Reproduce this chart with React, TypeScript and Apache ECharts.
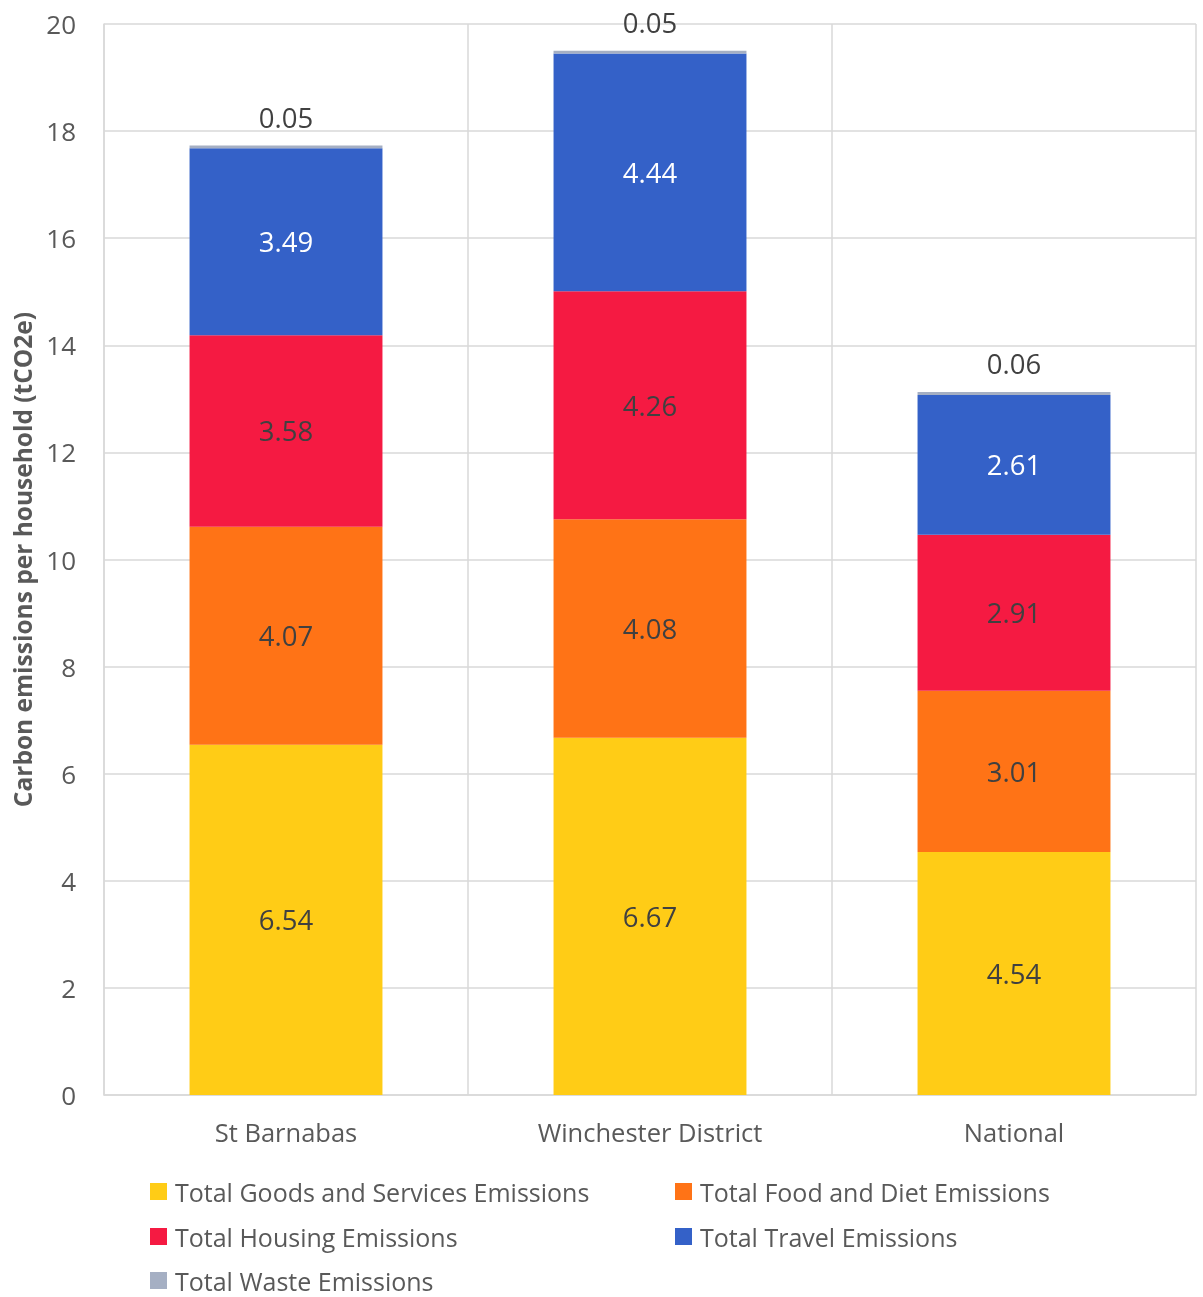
import React, { useEffect, useRef } from "react";
import * as echarts from "echarts";

const categories = ["St Barnabas", "Winchester District", "National"];
const seriesNames = [
  "Total Goods and Services Emissions",
  "Total Food and Diet Emissions",
  "Total Housing Emissions",
  "Total Travel Emissions",
  "Total Waste Emissions",
];
const goods = [6.54, 6.67, 4.54];
const food = [4.07, 4.08, 3.01];
const housing = [3.58, 4.26, 2.91];
const travel = [3.49, 4.44, 2.61];
const waste = [0.05, 0.05, 0.06];
const yTicks = { min: 0, max: 20, interval: 2 };

const colors = ["#FFCC16", "#FF7316", "#F51A42", "#3461C8", "#A5AFC3"];
const labelColors = ["#404040", "#404040", "#404040", "#FFFFFF", "#404040"];
const FONT = "'Open Sans', 'Noto Sans', sans-serif";

export default function App() {
  const ref = useRef<HTMLDivElement>(null);
  useEffect(() => {
    if (!ref.current) return;
    const chart = echarts.init(ref.current, null, { renderer: "svg" });
    const values = [goods, food, housing, travel, waste];
    const legendPos = [
      { left: 150, top: 1179 },
      { left: 675, top: 1179 },
      { left: 150, top: 1224 },
      { left: 675, top: 1224 },
      { left: 150, top: 1268 },
    ];
    chart.setOption({
      animation: false,
      textStyle: { fontFamily: FONT },
      grid: { left: 104, right: 7, top: 24, bottom: 202, containLabel: false, outerBoundsMode: "none" },
      legend: seriesNames.map((n, i) => ({
        data: [n],
        left: legendPos[i].left,
        top: legendPos[i].top,
        itemWidth: 17,
        itemHeight: 17,
        itemGap: 6,
        padding: 0,
        icon: "rect",
        selectedMode: false,
        textStyle: { fontSize: 25, color: "#595959", fontFamily: FONT, padding: [0, 0, 0, 3] },
      })),
      xAxis: {
        type: "category",
        data: categories,
        axisLine: { show: true, lineStyle: { color: "#D9D9D9", width: 1.5 } },
        axisTick: { show: false },
        splitLine: { show: true, lineStyle: { color: "#D9D9D9", width: 1.5 } },
        axisLabel: { fontSize: 25.5, color: "#595959", margin: 24, fontFamily: FONT },
      },
      yAxis: {
        type: "value",
        min: yTicks.min,
        max: yTicks.max,
        interval: yTicks.interval,
        name: "Carbon emissions per household (tCO2e)",
        nameLocation: "middle",
        nameGap: 69,
        nameTextStyle: { fontSize: 24.5, fontWeight: "bold", color: "#595959", fontFamily: FONT },
        axisLine: { show: true, lineStyle: { color: "#D9D9D9", width: 1.5 } },
        axisTick: { show: false },
        splitLine: { show: true, lineStyle: { color: "#D9D9D9", width: 1.5 } },
        axisLabel: { fontSize: 26, color: "#595959", margin: 28, fontFamily: FONT },
      },
      series: seriesNames.map((n, i) => ({
        name: n,
        type: "bar",
        stack: "total",
        barWidth: "53%",
        data: values[i],
        itemStyle: { color: colors[i] },
        label: {
          show: true,
          position: i === 4 ? "top" : "inside",
          distance: 14,
          fontSize: 27.5,
          color: labelColors[i],
          fontFamily: FONT,
          formatter: (p: any) => p.value.toFixed(2),
        },
      })),
    });
    return () => chart.dispose();
  }, []);
  return <div ref={ref} style={{ position: "fixed", left: 0, top: 0, width: 1203, height: 1297 }} />;
}
